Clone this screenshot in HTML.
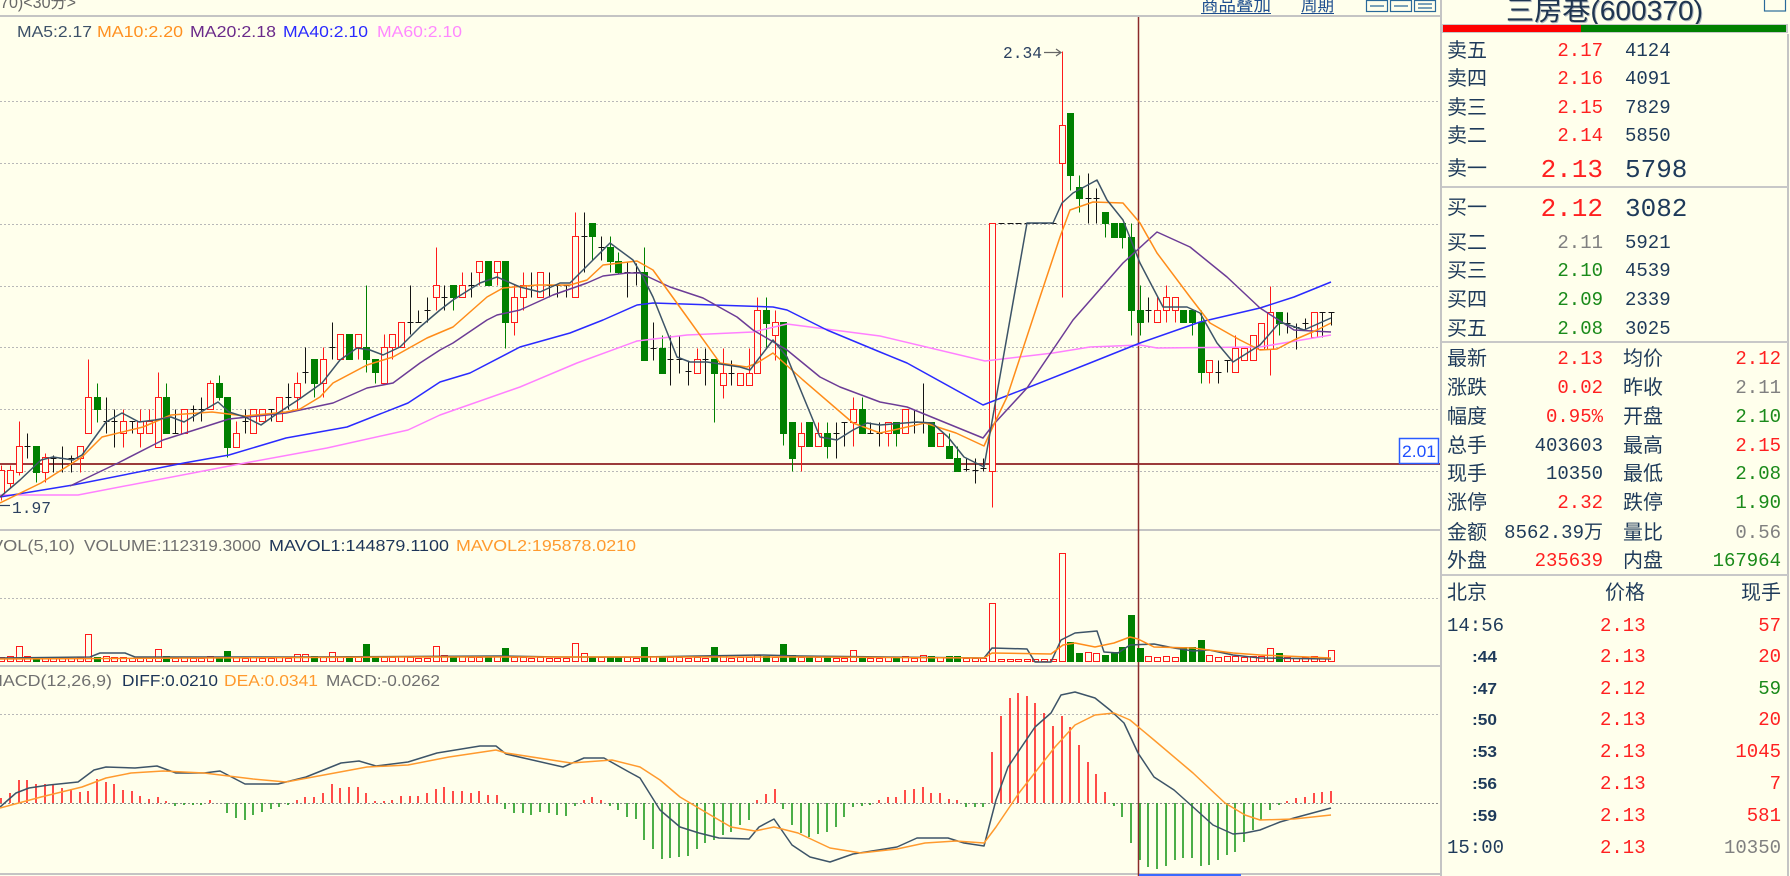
<!DOCTYPE html>
<html><head><meta charset="utf-8">
<style>
html,body{margin:0;padding:0;background:#FFFFEC;width:1790px;height:876px;overflow:hidden}
svg{display:block}
.s{font-family:"Liberation Sans","Noto Sans CJK SC",sans-serif}
.m{font-family:"Liberation Mono","Noto Sans CJK SC",monospace}
.c{font-family:"Liberation Sans","Noto Sans CJK SC",sans-serif}
.sf{font-family:"Liberation Serif","Noto Serif CJK SC",serif}
</style></head><body>
<svg width="1790" height="876" viewBox="0 0 1790 876" xmlns="http://www.w3.org/2000/svg">
<rect x="0" y="0" width="1790" height="876" fill="#FFFFEC"/>

<!-- grid -->
<path d="M0 101.5H1438M0 163.5H1438M0 224.5H1438M0 286.5H1438M0 347.5H1438M0 409.5H1438M0 471.5H1438M0 598.5H1438M0 714.5H1438" stroke="#b8b8b8" stroke-dasharray="2 2" stroke-width="1" fill="none"/>
<path d="M0 803.5H1438" stroke="#8a8a8a" stroke-dasharray="2 2" stroke-width="1"/>

<!-- panel separators -->
<path d="M0 16H1441M0 530H1441M0 666H1441M0 874H1441" stroke="#c4c4c4" stroke-width="2" fill="none"/>
<path d="M1441 0V876M1788 34V876" stroke="#c4c4c4" stroke-width="2" fill="none"/>

<!-- 2.01 line and cursor -->
<path d="M0 464H1440" stroke="#9b3b3b" stroke-width="2"/>
<path d="M1138.5 17V876" stroke="#8b2a2a" stroke-width="1.5"/>

<!-- candles (stroked) -->
<g transform="translate(0.5,0.5)" fill="none" stroke-width="1">
<path stroke="#ff1a1a" d="M1 465V500M10 465V487M19 421V475M45 453V482M80 446V472M88 359V433M123 409V447M140 409V447M149 409V433M158 372V447M210 380V409M236 421V447M297 372V409M323 347V397M358 334V359M384 334V383M392 334V359M436 247V310M462 272V297M479 261V285M497 261V285M514 285V335M523 272V310M575 212V297M697 348V373M723 348V398M749 348V385M757 297V373M775 310V360M801 422V471M818 422V446M853 397V446M888 422V446M992 223V507M1062 51V297M1157 297V322M1166 285V322M1175 297V322M1209 360V383M1235 335V372M1270 286V375"/>
<path stroke="#ff1a1a" fill="#FFFFEC" d="M-2 470h6v25h-6zM7 470h6v13h-6zM16 446h6v26h-6zM42 457h6v15h-6zM77 446h6v12h-6zM85 397h6v36h-6zM120 421h6v12h-6zM137 421h6v12h-6zM146 421h6v12h-6zM155 397h6v50h-6zM181 409h6v24h-6zM207 383h6v26h-6zM233 433h6v14h-6zM250 409h6v24h-6zM259 409h6v12h-6zM276 397h6v24h-6zM294 383h6v14h-6zM320 359h6v24h-6zM337 334h6v25h-6zM355 334h6v13h-6zM381 347h6v36h-6zM389 334h6v13h-6zM398 322h6v25h-6zM433 285h6v12h-6zM459 285h6v12h-6zM476 261h6v11h-6zM494 261h6v11h-6zM511 297h6v25h-6zM520 285h6v12h-6zM537 272h6v25h-6zM572 236h6v61h-6zM694 359h6v14h-6zM720 373h6v12h-6zM737 373h6v12h-6zM746 373h6v12h-6zM754 310h6v63h-6zM772 322h6v13h-6zM798 433h6v13h-6zM815 433h6v13h-6zM850 409h6v13h-6zM885 422h6v11h-6zM902 409h6v24h-6zM937 433h6v13h-6zM989 223h6v248h-6zM1059 125h6v38h-6zM1154 310h6v12h-6zM1163 297h6v13h-6zM1172 297h6v13h-6zM1206 360h6v12h-6zM1232 348h6v24h-6zM1241 348h6v12h-6zM1250 335h6v25h-6zM1258 323h6v26h-6zM1267 312h6v37h-6zM1311 312h6v25h-6z"/>
<path stroke="#008000" d="M36 446V482M97 383V422M166 383V433M219 375V400M227 397V457M314 359V397M366 285V372M375 359V383M453 285V310M505 261V348M592 223V260M610 236V272M618 252V273M644 247V360M662 335V373M714 359V422M766 297V347M783 322V445M792 422V471M827 422V458M862 397V433M896 422V446M949 433V458M957 446V471M1070 113V190M1079 175V212M1105 212V237M1122 223V248M1131 223V335M1140 285V335M1192 310V335M1201 310V383M1279 312V335"/>
<path stroke="#141414" d="M27 433V458M24 446h6M53 455V472M50 458h6M62 446V472M59 458h6M71 455V472M68 458h6M106 397V433M103 421h6M114 409V447M111 421h6M132 421V433M129 421h6M175 409V433M172 433h6M193 405V421M190 409h6M201 397V421M198 409h6M245 409V433M242 421h6M271 409V421M268 409h6M288 383V409M285 397h6M305 347V383M302 372h6M332 322V359M329 347h6M410 285V334M407 322h6M418 310V322M415 322h6M427 297V322M424 310h6M444 285V310M441 297h6M471 272V297M468 285h6M531 272V297M528 285h6M549 272V297M546 285h6M557 285V297M554 285h6M566 285V297M563 285h6M584 212V272M581 236h6M601 236V260M598 247h6M627 261V297M624 272h6M636 263V285M633 272h6M653 322V360M650 348h6M670 335V385M667 359h6M679 335V373M676 359h6M688 360V385M685 371h6M705 348V385M702 359h6M731 360V385M728 373h6M836 422V458M833 433h6M844 422V446M841 422h6M870 422V433M867 433h6M879 422V446M876 433h6M914 409V433M911 422h6M923 383V433M920 422h6M966 458V471M963 469h6M975 458V483M972 470h6M983 458V471M980 468h6M998 223h6M1007 223h6M1015 223h6M1024 223h6M1032 223h6M1041 223h6M1050 223h6M1088 173V223M1085 198h6M1096 188V223M1093 198h6M1148 297V322M1145 310h6M1218 360V383M1215 372h6M1227 360V372M1224 360h6M1287 312V333M1284 323h6M1296 323V349M1293 327h6M1305 318V330M1302 323h6M1322 312V337M1319 312h6M1331 312V325M1328 312h6"/>
<!-- volume red -->
<path stroke="#ff1a1a" fill="#FFFFEC" d="M-2 657h6v4h-6zM7 656h6v5h-6zM16 646h6v15h-6zM24 656h6v5h-6zM42 657h6v4h-6zM50 658h6v3h-6zM59 657h6v4h-6zM68 658h6v3h-6zM77 657h6v4h-6zM85 634h6v27h-6zM103 656h6v5h-6zM111 657h6v4h-6zM120 657h6v4h-6zM129 658h6v3h-6zM137 657h6v4h-6zM146 658h6v3h-6zM155 649h6v12h-6zM172 658h6v3h-6zM181 657h6v4h-6zM190 658h6v3h-6zM198 658h6v3h-6zM207 656h6v5h-6zM233 657h6v4h-6zM242 658h6v3h-6zM250 657h6v4h-6zM259 658h6v3h-6zM268 658h6v3h-6zM276 657h6v4h-6zM285 658h6v3h-6zM294 654h6v7h-6zM302 654h6v7h-6zM320 657h6v4h-6zM329 652h6v9h-6zM337 657h6v4h-6zM355 656h6v5h-6zM381 657h6v4h-6zM389 657h6v4h-6zM398 656h6v5h-6zM407 657h6v4h-6zM415 658h6v3h-6zM424 658h6v3h-6zM433 646h6v15h-6zM441 655h6v6h-6zM459 656h6v5h-6zM468 657h6v4h-6zM476 657h6v4h-6zM494 656h6v5h-6zM511 657h6v4h-6zM520 657h6v4h-6zM528 658h6v3h-6zM537 657h6v4h-6zM546 658h6v3h-6zM554 658h6v3h-6zM563 658h6v3h-6zM572 643h6v18h-6zM581 653h6v8h-6zM598 657h6v4h-6zM624 657h6v4h-6zM633 658h6v3h-6zM650 656h6v5h-6zM667 657h6v4h-6zM676 657h6v4h-6zM685 658h6v3h-6zM694 657h6v4h-6zM702 658h6v3h-6zM720 655h6v6h-6zM728 658h6v3h-6zM737 657h6v4h-6zM746 657h6v4h-6zM754 655h6v6h-6zM772 657h6v4h-6zM798 657h6v4h-6zM815 657h6v4h-6zM833 658h6v3h-6zM841 658h6v3h-6zM850 650h6v11h-6zM867 658h6v3h-6zM876 658h6v3h-6zM885 657h6v4h-6zM902 656h6v5h-6zM911 658h6v3h-6zM920 655h6v6h-6zM937 657h6v4h-6zM963 658h6v3h-6zM972 658h6v3h-6zM980 658h6v3h-6zM989 603h6v58h-6zM998 659h6v2h-6zM1007 659h6v2h-6zM1015 659h6v2h-6zM1024 659h6v2h-6zM1032 659h6v2h-6zM1041 659h6v2h-6zM1050 659h6v2h-6zM1059 553h6v108h-6zM1085 652h6v9h-6zM1093 653h6v8h-6zM1145 656h6v5h-6zM1154 657h6v4h-6zM1163 656h6v5h-6zM1172 657h6v4h-6zM1206 655h6v6h-6zM1215 657h6v4h-6zM1224 656h6v5h-6zM1232 656h6v5h-6zM1241 657h6v4h-6zM1250 656h6v5h-6zM1258 656h6v5h-6zM1267 648h6v13h-6zM1284 657h6v4h-6zM1293 658h6v3h-6zM1302 657h6v4h-6zM1311 656h6v5h-6zM1319 657h6v4h-6zM1328 650h6v11h-6z"/>
</g>

<!-- green candle bodies -->
<path fill="#008000" d="M33 446h7v27h-7zM94 397h7v13h-7zM163 397h7v37h-7zM216 383h7v15h-7zM224 397h7v51h-7zM311 359h7v25h-7zM346 334h7v26h-7zM363 347h7v13h-7zM372 359h7v14h-7zM450 285h7v13h-7zM485 261h7v25h-7zM502 261h7v62h-7zM589 223h7v14h-7zM607 247h7v15h-7zM615 261h7v12h-7zM641 272h7v89h-7zM659 348h7v26h-7zM711 359h7v15h-7zM763 310h7v14h-7zM780 322h7v112h-7zM789 422h7v37h-7zM806 422h7v25h-7zM824 433h7v14h-7zM859 409h7v25h-7zM893 422h7v12h-7zM928 422h7v25h-7zM946 446h7v13h-7zM954 458h7v14h-7zM1067 113h7v63h-7zM1076 187h7v12h-7zM1102 212h7v12h-7zM1111 223h7v15h-7zM1119 223h7v15h-7zM1128 237h7v74h-7zM1137 310h7v13h-7zM1180 310h7v13h-7zM1189 310h7v13h-7zM1198 322h7v51h-7zM1276 312h7v12h-7z"/>
<!-- green volume -->
<path fill="#008000" d="M33 657h7v5h-7zM94 657h7v5h-7zM163 656h7v6h-7zM216 657h7v5h-7zM224 651h7v11h-7zM311 656h7v6h-7zM346 656h7v6h-7zM363 644h7v18h-7zM372 656h7v6h-7zM450 656h7v6h-7zM485 657h7v5h-7zM502 648h7v14h-7zM589 657h7v5h-7zM607 657h7v5h-7zM615 657h7v5h-7zM641 647h7v15h-7zM659 657h7v5h-7zM711 647h7v15h-7zM763 656h7v6h-7zM780 644h7v18h-7zM789 655h7v7h-7zM806 657h7v5h-7zM824 657h7v5h-7zM859 656h7v6h-7zM893 657h7v5h-7zM928 656h7v6h-7zM946 656h7v6h-7zM954 656h7v6h-7zM1067 642h7v20h-7zM1076 653h7v9h-7zM1102 655h7v7h-7zM1111 652h7v10h-7zM1119 647h7v15h-7zM1128 615h7v47h-7zM1137 648h7v14h-7zM1180 647h7v15h-7zM1189 647h7v15h-7zM1198 640h7v22h-7zM1276 653h7v9h-7z"/>

<!-- MACD histogram -->
<path stroke="#ff2020" stroke-width="1.6" fill="none" d="M1 803V798M10 803V793M19 803V780M27 803V780M36 803V784M45 803V784M53 803V785M62 803V788M71 803V789M80 803V792M88 803V791M97 803V779M106 803V782M114 803V784M123 803V790M132 803V791M140 803V796M149 803V799M158 803V797M166 803V801M210 803V800M297 803V800M305 803V797M314 803V797M323 803V793M332 803V784M340 803V788M349 803V787M358 803V787M366 803V793M375 803V801M384 803V801M392 803V800M401 803V796M410 803V796M418 803V796M427 803V793M436 803V789M444 803V787M453 803V791M462 803V791M471 803V793M479 803V791M488 803V795M497 803V795M584 803V800M592 803V797M601 803V800M757 803V800M766 803V794M775 803V789M879 803V800M888 803V797M896 803V797M905 803V790M914 803V789M923 803V787M931 803V793M940 803V793M949 803V799M957 803V800M992 803V752M1001 803V716M1010 803V698M1018 803V693M1027 803V696M1035 803V703M1044 803V713M1053 803V726M1062 803V716M1070 803V727M1079 803V745M1088 803V762M1096 803V774M1105 803V792M1287 803V801M1296 803V798M1305 803V797M1314 803V793M1322 803V792M1331 803V791"/>
<path stroke="#1f9a1f" stroke-width="1.6" fill="none" d="M175 803V806M184 803V805M193 803V805M201 803V805M227 803V813M236 803V818M245 803V820M253 803V815M262 803V812M271 803V809M279 803V807M288 803V805M505 803V809M514 803V813M523 803V813M531 803V815M540 803V812M549 803V813M557 803V815M566 803V816M575 803V806M610 803V806M618 803V810M627 803V817M636 803V819M644 803V840M653 803V849M662 803V859M670 803V858M679 803V857M688 803V856M697 803V849M705 803V843M714 803V840M723 803V835M731 803V832M740 803V825M749 803V820M783 803V809M792 803V825M801 803V833M809 803V837M818 803V834M827 803V832M836 803V827M844 803V817M853 803V807M862 803V806M870 803V805M966 803V807M975 803V807M983 803V807M1114 803V806M1122 803V817M1131 803V843M1140 803V860M1148 803V867M1157 803V869M1166 803V866M1175 803V860M1183 803V858M1192 803V858M1201 803V866M1209 803V865M1218 803V860M1227 803V855M1235 803V852M1244 803V842M1253 803V830M1261 803V820M1270 803V810M1279 803V805"/>

<!-- MA lines -->
<g fill="none" stroke-width="1.5" stroke-linejoin="round">
<polyline stroke="#ff80ff" points="0,495 78,495 245,463 327,448 408,430 440,415 520,387 577,363 637,341 687,335 753,332 787,324 880,336 985,361 1053,353 1090,347 1140,345 1157,348 1260,347 1331,335"/>
<polyline stroke="#2a2aff" points="0,497 73,485 184,463 229,455 286,438 347,427 408,403 440,382 470,373 520,347 570,333 603,320 637,305 653,303 773,307 787,310 827,330 880,352 907,363 983,405 1027,388 1090,363 1140,343 1200,322 1260,308 1294,297 1331,282"/>
<polyline stroke="#6c3c96" points="70,486 118,463 163,440 204,427 229,419 286,413 333,403 367,388 393,383 420,363 440,350 453,343 487,320 497,315 520,310 553,295 587,283 603,276 627,273 640,273 670,287 703,298 737,317 753,330 787,350 820,377 840,387 880,402 907,407 983,438 993,425 1027,388 1073,320 1123,263 1157,232 1190,247 1227,277 1260,308 1294,330 1331,332"/>
<polyline stroke="#ff8c1a" points="0,503 41,483 82,457 102,437 143,427 171,415 212,412 245,416 286,412 300,409 320,397 333,383 367,365 393,357 427,338 453,327 487,297 503,288 537,285 570,285 587,280 603,265 637,261 653,270 687,317 720,363 747,367 757,363 773,353 803,380 853,423 880,433 925,423 956,433 984,446 996,420 1007,397 1040,297 1060,237 1070,210 1093,202 1123,203 1140,223 1157,253 1190,297 1210,323 1240,340 1260,350 1277,349 1294,340 1317,330 1331,323"/>
<polyline stroke="#3d5468" points="0,497 20,480 41,460 53,457 73,460 82,455 106,422 122,413 139,422 155,420 171,417 184,422 218,402 229,412 245,417 261,425 278,413 298,400 322,383 340,360 357,348 370,350 383,355 400,347 420,327 440,310 453,300 480,283 497,277 520,287 540,292 560,283 570,283 593,260 610,243 633,260 643,277 653,297 677,357 690,362 707,362 740,367 750,370 773,340 787,357 820,437 837,440 853,430 867,423 880,425 917,422 932,423 948,437 964,457 984,467 1027,223 1053,223 1062,203 1073,193 1097,180 1107,200 1123,220 1140,263 1163,307 1187,307 1200,313 1217,343 1233,362 1260,345 1280,322 1304,330 1331,318"/>
<!-- MAVOL -->
<polyline stroke="#3d5468" points="0,658 90,657 100,653 125,653 135,657 300,657 500,656 560,657 640,657 700,656 760,655 800,656 984,658 992,648 1027,649 1035,662 1051,662 1061,640 1075,633 1097,631 1104,652 1118,653 1130,645 1154,644 1174,648 1193,651 1209,650 1233,655 1260,658 1331,659"/>
<polyline stroke="#ff8c1a" points="0,659 200,658 400,657 600,657 800,657 984,658 992,653 1051,654 1063,645 1075,643 1095,647 1114,643 1130,637 1138,639 1154,647 1193,648 1233,653 1260,655 1331,658"/>
<!-- MACD lines -->
<polyline stroke="#3d5468" points="0,807 16,793 29,788 49,785 78,782 94,770 106,767 135,768 157,766 176,773 204,773 220,771 245,784 278,784 306,777 341,763 359,761 376,766 408,762 437,753 480,746 496,746 506,754 563,767 584,758 604,758 629,772 640,778 660,810 680,827 699,833 719,838 749,839 759,827 774,819 792,845 810,857 830,862 853,854 897,847 917,838 948,838 964,843 984,846 996,800 1008,767 1035,727 1051,713 1061,695 1075,692 1095,698 1110,710 1124,723 1138,753 1154,777 1174,790 1193,807 1213,825 1233,834 1245,833 1260,830 1280,822 1294,818 1331,808"/>
<polyline stroke="#ff9a2e" points="0,808 41,797 82,787 106,778 131,773 163,771 204,773 253,779 286,782 367,767 408,765 449,757 496,750 506,753 571,763 612,760 640,767 660,780 680,797 707,813 731,827 755,831 774,827 798,833 830,848 861,853 897,849 925,843 956,841 984,843 996,827 1019,793 1055,747 1075,725 1095,715 1114,713 1130,720 1154,740 1193,773 1225,803 1245,815 1260,820 1294,819 1331,815"/>
</g>

<!-- price annotations -->
<text class="m" x="1003" y="58" font-size="17" fill="#2b4060" textLength="39" lengthAdjust="spacingAndGlyphs">2.34</text>
<path d="M1044 52.5H1060M1056 49L1061 52.5L1056 56" stroke="#666" stroke-width="1.2" fill="none"/>
<path d="M0 505.5H10" stroke="#2b4060" stroke-width="1.2"/>
<text class="m" x="12" y="513" font-size="17" fill="#2b4060" textLength="39" lengthAdjust="spacingAndGlyphs">1.97</text>
<rect x="1399.5" y="438.5" width="39" height="25" fill="#ffffff" stroke="#2a5cff" stroke-width="1.5"/>
<text class="s" x="1402" y="457" font-size="17" fill="#1f4fff" textLength="34" lengthAdjust="spacingAndGlyphs">2.01</text>

<!-- top header -->
<text class="c" x="0" y="8" font-size="17" fill="#666" textLength="76" lengthAdjust="spacingAndGlyphs">70)&lt;30分&gt;</text>
<g class="s" font-size="16">
<text x="17" y="37" fill="#3c5068" textLength="75" lengthAdjust="spacingAndGlyphs">MA5:2.17</text>
<text x="97" y="37" fill="#ff9020" textLength="86" lengthAdjust="spacingAndGlyphs">MA10:2.20</text>
<text x="190" y="37" fill="#6a2a8a" textLength="86" lengthAdjust="spacingAndGlyphs">MA20:2.18</text>
<text x="283" y="37" fill="#2a2aff" textLength="85" lengthAdjust="spacingAndGlyphs">MA40:2.10</text>
<text x="377" y="37" fill="#ff88ff" textLength="85" lengthAdjust="spacingAndGlyphs">MA60:2.10</text>
<text x="-9" y="551" fill="#707070" textLength="84" lengthAdjust="spacingAndGlyphs">VOL(5,10)</text>
<text x="84" y="551" fill="#707070" textLength="177" lengthAdjust="spacingAndGlyphs">VOLUME:112319.3000</text>
<text x="269" y="551" fill="#1d3558" textLength="180" lengthAdjust="spacingAndGlyphs">MAVOL1:144879.1100</text>
<text x="456" y="551" fill="#ff9a2e" textLength="180" lengthAdjust="spacingAndGlyphs">MAVOL2:195878.0210</text>
<text x="-12" y="686" fill="#707070" textLength="124" lengthAdjust="spacingAndGlyphs">MACD(12,26,9)</text>
<text x="122" y="686" fill="#1d3558" textLength="96" lengthAdjust="spacingAndGlyphs">DIFF:0.0210</text>
<text x="224" y="686" fill="#ff9a2e" textLength="94" lengthAdjust="spacingAndGlyphs">DEA:0.0341</text>
<text x="326" y="686" fill="#707070" textLength="114" lengthAdjust="spacingAndGlyphs">MACD:-0.0262</text>
</g>
<g class="c" font-size="17" fill="#1f4f8f">
<text x="1201" y="11" textLength="70" lengthAdjust="spacingAndGlyphs">商品叠加</text>
<text x="1301" y="11" textLength="33" lengthAdjust="spacingAndGlyphs">周期</text>
</g>
<path d="M1201 13.5H1271M1301 13.5H1334" stroke="#1f4f8f" stroke-width="1"/>
<g fill="none" stroke="#2a6a9a" stroke-width="1.2">
<rect x="1366.5" y="0.5" width="21" height="11"/><rect x="1390.5" y="0.5" width="21" height="11"/><rect x="1414.5" y="0.5" width="21" height="11"/>
<path d="M1370 6H1384M1394 6H1408M1418 4H1432M1418 8H1432"/>
<rect x="1764.5" y="-1" width="21" height="12"/>
</g>
<path d="M1139 875H1241" stroke="#3a6aff" stroke-width="2"/>

<!-- right panel -->
<text class="c" x="1507" y="21" font-size="28" fill="#b0b8c0" textLength="197" lengthAdjust="spacingAndGlyphs">三房巷(600370)</text>
<text class="c" x="1506" y="20" font-size="28" fill="#1f3550" textLength="197" lengthAdjust="spacingAndGlyphs">三房巷(600370)</text>
<rect x="1442" y="24" width="346" height="9" fill="#c8c8c8"/>
<rect x="1443" y="25" width="138" height="7" fill="#ff0000"/>
<rect x="1581" y="25" width="205" height="7" fill="#008000"/>
<path d="M1442 187H1788M1442 342H1788M1442 575H1788" stroke="#c8c8c8" stroke-width="2"/>

<g class="c" font-size="20" fill="#1e3a5a">
<text x="1447" y="57">卖五</text>
<text x="1447" y="85">卖四</text>
<text x="1447" y="114">卖三</text>
<text x="1447" y="142">卖二</text>
<text x="1447" y="175">卖一</text>
<text x="1447" y="214">买一</text>
<text x="1447" y="249">买二</text>
<text x="1447" y="277">买三</text>
<text x="1447" y="306">买四</text>
<text x="1447" y="335">买五</text>
<text x="1447" y="365">最新</text>
<text x="1447" y="394">涨跌</text>
<text x="1447" y="423">幅度</text>
<text x="1447" y="452">总手</text>
<text x="1447" y="480">现手</text>
<text x="1447" y="509">涨停</text>
<text x="1447" y="539">金额</text>
<text x="1447" y="567">外盘</text>
<text x="1623" y="365">均价</text>
<text x="1623" y="394">昨收</text>
<text x="1623" y="423">开盘</text>
<text x="1623" y="452">最高</text>
<text x="1623" y="480">最低</text>
<text x="1623" y="509">跌停</text>
<text x="1623" y="539">量比</text>
<text x="1623" y="567">内盘</text>
<text x="1447" y="599">北京</text>
<text x="1605" y="599">价格</text>
<text x="1781" y="599" text-anchor="end">现手</text>
</g>

<g class="m" font-size="19">
<g text-anchor="end">
<text x="1603" y="56" fill="#ff2020">2.17</text>
<text x="1603" y="84" fill="#ff2020">2.16</text>
<text x="1603" y="113" fill="#ff2020">2.15</text>
<text x="1603" y="141" fill="#ff2020">2.14</text>
<text x="1603" y="248" fill="#808080">2.11</text>
<text x="1603" y="276" fill="#1a8a1a">2.10</text>
<text x="1603" y="305" fill="#1a8a1a">2.09</text>
<text x="1603" y="334" fill="#1a8a1a">2.08</text>
<text x="1603" y="364" fill="#ff2020">2.13</text>
<text x="1603" y="393" fill="#ff2020">0.02</text>
<text x="1603" y="422" fill="#ff2020">0.95%</text>
<text x="1603" y="451" fill="#1e3a5a">403603</text>
<text x="1603" y="479" fill="#1e3a5a">10350</text>
<text x="1603" y="508" fill="#ff2020">2.32</text>
<text x="1603" y="538" fill="#1e3a5a">8562.39万</text>
<text x="1603" y="566" fill="#ff2020">235639</text>
<text x="1781" y="364" fill="#ff2020">2.12</text>
<text x="1781" y="393" fill="#808080">2.11</text>
<text x="1781" y="422" fill="#1a8a1a">2.10</text>
<text x="1781" y="451" fill="#ff2020">2.15</text>
<text x="1781" y="479" fill="#1a8a1a">2.08</text>
<text x="1781" y="508" fill="#1a8a1a">1.90</text>
<text x="1781" y="538" fill="#808080">0.56</text>
<text x="1781" y="566" fill="#1a8a1a">167964</text>
<text x="1781" y="631" fill="#ff2020">57</text>
<text x="1781" y="662" fill="#ff2020">20</text>
<text x="1781" y="694" fill="#1a8a1a">59</text>
<text x="1781" y="725" fill="#ff2020">20</text>
<text x="1781" y="757" fill="#ff2020">1045</text>
<text x="1781" y="789" fill="#ff2020">7</text>
<text x="1781" y="821" fill="#ff2020">581</text>
<text x="1781" y="853" fill="#808080">10350</text>
</g>
<text x="1625" y="56" fill="#1e3a5a">4124</text>
<text x="1625" y="84" fill="#1e3a5a">4091</text>
<text x="1625" y="113" fill="#1e3a5a">7829</text>
<text x="1625" y="141" fill="#1e3a5a">5850</text>
<text x="1625" y="248" fill="#1e3a5a">5921</text>
<text x="1625" y="276" fill="#1e3a5a">4539</text>
<text x="1625" y="305" fill="#1e3a5a">2339</text>
<text x="1625" y="334" fill="#1e3a5a">3025</text>
<text x="1447" y="631" fill="#1e3a5a">14:56</text>
<text x="1447" y="853" fill="#1e3a5a">15:00</text>
<text x="1600" y="631" fill="#ff2020">2.13</text>
<text x="1600" y="662" fill="#ff2020">2.13</text>
<text x="1600" y="694" fill="#ff2020">2.12</text>
<text x="1600" y="725" fill="#ff2020">2.13</text>
<text x="1600" y="757" fill="#ff2020">2.13</text>
<text x="1600" y="789" fill="#ff2020">2.13</text>
<text x="1600" y="821" fill="#ff2020">2.13</text>
<text x="1600" y="853" fill="#ff2020">2.13</text>
</g>
<g class="m" font-size="26">
<text x="1603" y="177" fill="#ff2020" text-anchor="end">2.13</text>
<text x="1625" y="177" fill="#1e3a5a">5798</text>
<text x="1603" y="216" fill="#ff2020" text-anchor="end">2.12</text>
<text x="1625" y="216" fill="#1e3a5a">3082</text>
</g>
<g class="s" font-size="16" font-weight="bold" fill="#1e3a5a">
<text x="1472" y="662" textLength="25" lengthAdjust="spacingAndGlyphs">:44</text>
<text x="1472" y="694" textLength="25" lengthAdjust="spacingAndGlyphs">:47</text>
<text x="1472" y="725" textLength="25" lengthAdjust="spacingAndGlyphs">:50</text>
<text x="1472" y="757" textLength="25" lengthAdjust="spacingAndGlyphs">:53</text>
<text x="1472" y="789" textLength="25" lengthAdjust="spacingAndGlyphs">:56</text>
<text x="1472" y="821" textLength="25" lengthAdjust="spacingAndGlyphs">:59</text>
</g>
</svg>
</body></html>
